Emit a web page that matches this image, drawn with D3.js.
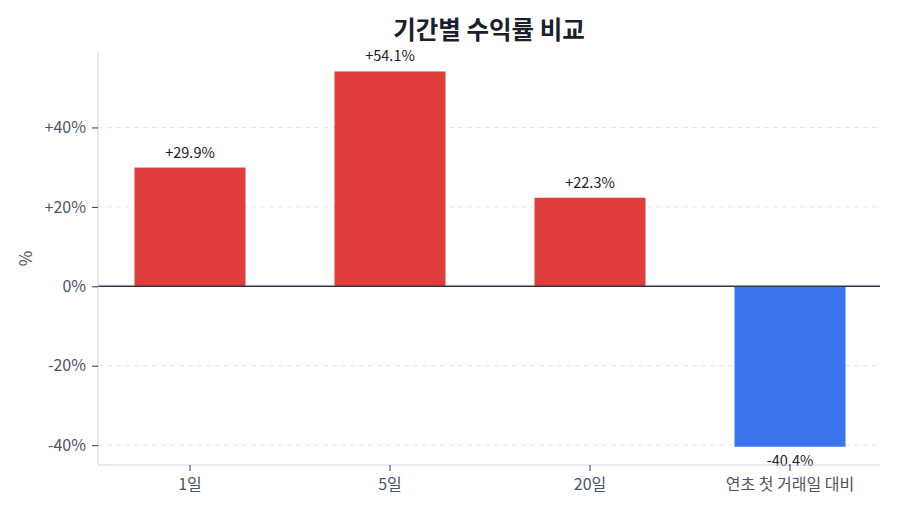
<!DOCTYPE html>
<html>
<head>
<meta charset="utf-8">
<script src="https://cdn.jsdelivr.net/npm/d3@7"></script>
<style>
  html, body { margin: 0; padding: 0; background: #fff; }
  svg { display: block; font-family: "Noto Sans CJK KR", "Noto Sans", sans-serif; }
</style>
</head>
<body>
<div id="chart"></div>
<script>
const categories = ["1일", "5일", "20일", "연초 첫 거래일 대비"];
const returns = [29.9, 54.1, 22.3, -40.4];
const yTicks = [-40, -20, 0, 20, 40];

const width = 900, height = 514;
const margin = { top: 52, right: 20, bottom: 49, left: 98 };

const svg = d3.select("#chart").append("svg")
    .attr("width", width)
    .attr("height", height);

const data = categories.map((c, i) => ({ cat: c, value: returns[i] }));

const x = d3.scaleBand()
    .domain(categories)
    .range([90, 890])
    .paddingInner(0.445)
    .paddingOuter(0.2225);

const y = d3.scaleLinear()
    .domain([-45, 59])
    .range([height - margin.bottom, margin.top]);

const fmt = v => (v > 0 ? "+" : "") + v + "%";

// grille
svg.append("g")
    .selectAll("line")
    .data(yTicks.filter(d => d !== 0))
    .join("line")
    .attr("x1", margin.left)
    .attr("x2", width - margin.right)
    .attr("y1", d => y(d))
    .attr("y2", d => y(d))
    .attr("stroke", "#e2e6ee")
    .attr("stroke-dasharray", "5,4");

// barres
svg.append("g")
    .selectAll("rect")
    .data(data)
    .join("rect")
    .attr("x", d => x(d.cat))
    .attr("width", x.bandwidth())
    .attr("y", d => y(Math.max(0, d.value)))
    .attr("height", d => Math.abs(y(d.value) - y(0)))
    .attr("fill", d => d.value >= 0 ? "#e03c3c" : "#3b74ec");

// ligne zéro
svg.append("line")
    .attr("x1", margin.left)
    .attr("x2", width - margin.right)
    .attr("y1", y(0))
    .attr("y2", y(0))
    .attr("stroke", "#2d3748")
    .attr("stroke-width", 1.5);

// étiquettes des valeurs
svg.append("g")
    .selectAll("text")
    .data(data)
    .join("text")
    .attr("x", d => x(d.cat) + x.bandwidth() / 2)
    .attr("y", d => d.value >= 0 ? y(d.value) - 10 : y(d.value) + 19)
    .attr("text-anchor", "middle")
    .style("font-size", "14.5px")
    .style("fill", "#1a202c")
    .text(d => fmt(d.value));

// axe y
const yAxis = svg.append("g")
    .attr("transform", `translate(${margin.left},0)`)
    .call(d3.axisLeft(y).tickValues(yTicks).tickSize(6).tickPadding(6).tickFormat(fmt));
yAxis.select(".domain").attr("stroke", "#cfd5e0").attr("d", `M0,${margin.top}V${height - margin.bottom}`);
yAxis.selectAll(".tick line").attr("stroke", "#2d3748");
yAxis.selectAll(".tick text").attr("fill", "#4a5568").style("font-size", "16px")
    .style("font-family", "'Noto Sans CJK KR', sans-serif");

// axe x
const xAxis = svg.append("g")
    .attr("transform", `translate(0,${height - margin.bottom})`)
    .call(d3.axisBottom(x).tickSize(6).tickPadding(8));
xAxis.select(".domain").attr("stroke", "#cfd5e0").attr("d", `M${margin.left},0H${width - margin.right}`);
xAxis.selectAll(".tick line").attr("stroke", "#2d3748");
xAxis.selectAll(".tick text").attr("fill", "#4a5568").style("font-size", "16px")
    .style("font-family", "'Noto Sans CJK KR', sans-serif");

// titre
svg.append("text")
    .attr("x", (margin.left + width - margin.right) / 2)
    .attr("y", 39)
    .attr("text-anchor", "middle")
    .style("font-size", "24.5px")
    .style("font-weight", "700")
    .style("fill", "#1a202c")
    .text("기간별 수익률 비교");

// label axe y
svg.append("text")
    .attr("transform", `translate(32,${(margin.top + height - margin.bottom) / 2}) rotate(-90)`)
    .attr("text-anchor", "middle")
    .style("font-size", "17px")
    .style("fill", "#4a5568")
    .text("%");
</script>
</body>
</html>
